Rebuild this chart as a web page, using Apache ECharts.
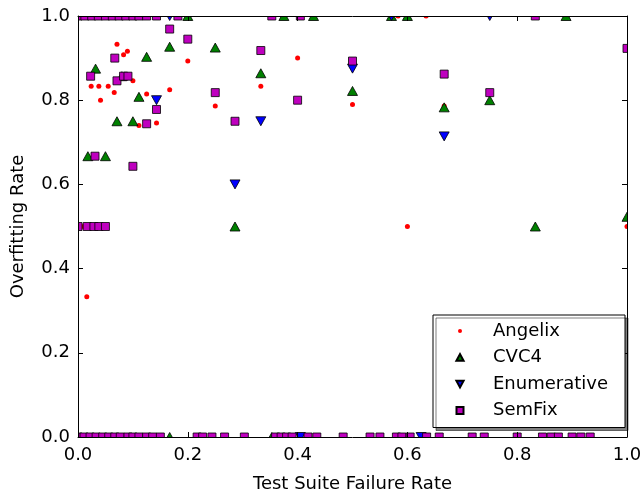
<!DOCTYPE html>
<html>
<head>
<meta charset="utf-8">
<script src="https://cdn.jsdelivr.net/npm/echarts@6/dist/echarts.min.js"></script>
<style>
  html, body { margin: 0; padding: 0; background: #fff; }
  #chart { width: 642px; height: 495px; }
</style>
</head>
<body>
<div id="chart"></div>
<script>
// values: [failure rate, overfitting rate]
var angelix = [
  [0.016, 0.333], [0.071, 0.933], [0.09, 0.916], [0.083, 0.908], [0.2, 0.893],
  [0.1, 0.846], [0.024, 0.833], [0.038, 0.833], [0.055, 0.833], [0.066, 0.818],
  [0.041, 0.8], [0.125, 0.815], [0.167, 0.825], [0.333, 0.833], [0.25, 0.786],
  [0.143, 0.746], [0.111, 0.74], [0.4, 0.9], [0.5, 0.79], [0.667, 0.786],
  [0.6, 0.5], [1.0, 0.5], [0.583, 1], [0.634, 1], [0.01, 0.5]
]
var cvc4 = [
  [0.167, 0.927], [0.25, 0.925], [0.125, 0.903], [0.032, 0.875], [0.333, 0.864],
  [0.08, 0.857], [0.111, 0.808], [0.071, 0.75], [0.1, 0.75], [0.018, 0.667],
  [0.05, 0.667], [0.5, 0.822], [0.667, 0.783], [0.75, 0.8], [0.286, 0.5],
  [0.833, 0.5], [1.0, 0.523], [0.2, 1], [0.375, 1], [0.429, 1], [0.6, 1],
  [0.571, 1], [0.889, 1], [0.167, 0], [0.353, 0]
]
var enumerative = [
  [0.143, 0.8], [0.333, 0.75], [0.5, 0.875], [0.667, 0.714], [0.286, 0.6],
  [0.167, 1], [0.571, 1], [0.75, 1], [0.405, 0], [0.625, 0]
]
var semfix = [
  [0, 1], [0.0125, 1], [0.025, 1], [0.037, 1], [0.05, 1], [0.0625, 1], [0.075, 1],
  [0.087, 1], [0.1, 1], [0.111, 1], [0.125, 1], [0.143, 1], [0.182, 1], [0.353, 1],
  [0.405, 1], [0.833, 1],
  [0.167, 0.969], [0.2, 0.945], [0.067, 0.9], [0.333, 0.918], [0.023, 0.857],
  [0.071, 0.846], [0.083, 0.857], [0.091, 0.857], [0.25, 0.818], [0.143, 0.778],
  [0.125, 0.744], [0.286, 0.75], [0.031, 0.667], [0.1, 0.643], [0.5, 0.893],
  [0.4, 0.8], [0.667, 0.862], [0.75, 0.818], [1.0, 0.923],
  [0, 0.5], [0.0167, 0.5], [0.029, 0.5], [0.038, 0.5], [0.05, 0.5],
  [0, 0], [0.011, 0], [0.022, 0], [0.033, 0], [0.045, 0], [0.056, 0], [0.067, 0],
  [0.077, 0], [0.091, 0], [0.1, 0], [0.111, 0], [0.125, 0], [0.136, 0], [0.15, 0],
  [0.217, 0], [0.227, 0], [0.244, 0], [0.267, 0], [0.303, 0], [0.36, 0], [0.37, 0],
  [0.38, 0], [0.39, 0], [0.419, 0], [0.435, 0], [0.483, 0], [0.532, 0], [0.55, 0],
  [0.58, 0], [0.59, 0], [0.605, 0], [0.635, 0], [0.658, 0], [0.718, 0], [0.74, 0],
  [0.8, 0], [0.846, 0], [0.862, 0], [0.875, 0], [0.9, 0], [0.916, 0], [0.933, 0]
]
var seriesNames = ['Angelix', 'CVC4', 'Enumerative', 'SemFix']

var font = 'DejaVu Sans'
var downTri = 'path://M0,0 L2,0 L1,1.8 Z'
// legend icons: the shape sits inside an empty 14x14 box so it stays small
var box = 'M0,0 L0,0 M14,0 L14,0 M0,14 L0,14 M14,14 L14,14 '
var legDot = 'path://' + box + 'M7,5 A2,2 0 1,1 7,9 A2,2 0 1,1 7,5 Z'
var legUp = 'path://' + box + 'M3.4,10.2 L10.6,10.2 L7,3.6 Z'
var legDown = 'path://' + box + 'M3.4,3.8 L10.6,3.8 L7,10.4 Z'
var legSq = 'path://' + box + 'M3.5,3.5 L10.5,3.5 L10.5,10.5 L3.5,10.5 Z'

// plot area (pixels), also used for the masks that cut markers at the frame
var G = { left: 78, right: 15, top: 16, bottom: 58 }
var W = 642, H = 495

function fmt(v) { return v.toFixed(1) }

function axisBase(pos, showLabel) {
  return {
    type: 'value',
    position: pos,
    min: 0,
    max: 1,
    interval: 0.2,
    z: 10,
    splitLine: { show: false },
    axisLine: { show: true, onZero: false, lineStyle: { color: '#000', width: 1 } },
    axisTick: { show: true, inside: true, length: 5, lineStyle: { color: '#000' } },
    axisLabel: {
      show: showLabel,
      formatter: fmt,
      color: '#000',
      fontFamily: font,
      fontSize: 18,
      margin: pos === 'bottom' ? 9 : 8
    }
  }
}

var chart = echarts.init(document.getElementById('chart'))

var xBottom = axisBase('bottom', true)
xBottom.name = 'Test Suite Failure Rate'
xBottom.nameLocation = 'middle'
xBottom.nameGap = 38
xBottom.nameTextStyle = { color: '#000', fontFamily: font, fontSize: 18 }

var yLeft = axisBase('left', true)
yLeft.name = 'Overfitting Rate'
yLeft.nameLocation = 'middle'
yLeft.nameGap = 51
yLeft.nameTextStyle = { color: '#000', fontFamily: font, fontSize: 18 }

function mask(x, y, w, h) {
  return { type: 'rect', z: 3, silent: true, shape: { x: x, y: y, width: w, height: h }, style: { fill: '#fff' } }
}

var option = {
  animation: false,
  backgroundColor: '#fff',
  grid: {
    left: G.left, right: G.right, top: G.top, bottom: G.bottom,
    containLabel: false,
    outerBoundsMode: 'none'
  },
  xAxis: [xBottom, axisBase('top', false)],
  yAxis: [yLeft, axisBase('right', false)],
  graphic: [
    mask(0, 0, W, G.top),
    mask(0, H - G.bottom, W, G.bottom),
    mask(0, 0, G.left, H),
    mask(W - G.right, 0, G.right, H)
  ],
  legend: {
    orient: 'vertical',
    z: 20,
    left: 433,
    top: 315,
    padding: [7, 17, 8, 19],
    itemWidth: 14,
    itemHeight: 14,
    itemGap: 8.5,
    backgroundColor: '#fff',
    borderColor: '#000',
    borderWidth: 1,
    borderRadius: 0,
    shadowColor: 'rgba(0,0,0,0.5)',
    shadowOffsetX: 3,
    shadowOffsetY: 3,
    shadowBlur: 0,
    textStyle: { color: '#000', fontFamily: font, fontSize: 18, lineHeight: 18, padding: [0, 0, 0, 21] },
    data: [
      { name: seriesNames[0], icon: legDot, itemStyle: { color: '#ff0000', borderWidth: 0 } },
      { name: seriesNames[1], icon: legUp },
      { name: seriesNames[2], icon: legDown },
      { name: seriesNames[3], icon: legSq }
    ]
  },
  series: [
    {
      name: seriesNames[0],
      type: 'scatter',
      data: angelix,
      symbol: 'circle',
      symbolSize: 5,
      itemStyle: { color: '#ff0000', opacity: 1 }
    },
    {
      name: seriesNames[1],
      type: 'scatter',
      data: cvc4,
      symbol: 'triangle',
      symbolSize: [10, 9],
      itemStyle: { color: '#008000', borderColor: '#000', borderWidth: 0.8, opacity: 1 }
    },
    {
      name: seriesNames[2],
      type: 'scatter',
      data: enumerative,
      symbol: downTri,
      symbolSize: [10, 9],
      itemStyle: { color: '#0000ff', borderColor: '#000', borderWidth: 0.8, opacity: 1 }
    },
    {
      name: seriesNames[3],
      type: 'scatter',
      data: semfix,
      symbol: 'rect',
      symbolSize: 8,
      itemStyle: { color: '#bf00bf', borderColor: '#000', borderWidth: 0.8, opacity: 1 }
    }
  ]
}
chart.setOption(option)
</script>
</body>
</html>
